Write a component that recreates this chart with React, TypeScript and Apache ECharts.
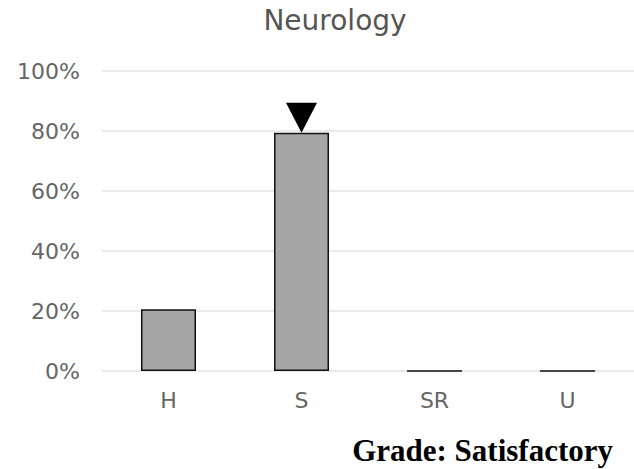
import React, { useEffect, useRef } from "react";
import * as echarts from "echarts";

const categories = ["H", "S", "SR", "U"];
const values = [20.6, 79.4, 0, 0];
const yTicks = [0, 20, 40, 60, 80, 100];
const titleText = "Neurology";
const gradeText = "Grade: Satisfactory";
const markedCategory = "S";

export default function App() {
  const ref = useRef<HTMLDivElement>(null);
  useEffect(() => {
    if (!ref.current) return;
    const chart = echarts.init(ref.current, null, { renderer: "svg" });
    const markedIndex = categories.indexOf(markedCategory);
    chart.setOption({
      animation: false,
      title: {
        text: titleText,
        top: 1,
        left: 330,
        textAlign: "center",
        textStyle: { fontFamily: "DejaVu Sans", fontSize: 28, fontWeight: "normal", color: "#555" },
      },
      grid: { left: 102, right: 0, top: 71, bottom: 98, containLabel: false },
      xAxis: {
        type: "category",
        data: categories,
        axisLine: { show: false },
        axisTick: { show: false },
        axisLabel: { fontFamily: "DejaVu Sans", fontSize: 22, color: "#666", margin: 18 },
      },
      yAxis: {
        type: "value",
        min: 0,
        max: 100,
        interval: 20,
        axisLine: { show: false },
        axisTick: { show: false },
        splitLine: { lineStyle: { color: "#e3e3e3", width: 1.5 } },
        axisLabel: {
          fontFamily: "DejaVu Sans",
          fontSize: 22,
          color: "#666",
          margin: 22,
          formatter: (v: number) => (yTicks.includes(v) ? v + "%" : ""),
        },
      },
      series: [
        {
          type: "bar",
          data: values,
          barWidth: 55,
          itemStyle: { color: "#a6a6a6", borderColor: "#111", borderWidth: 1.5 },
          markPoint: {
            symbol: "triangle",
            symbolRotate: 180,
            symbolSize: [31, 30],
            symbolOffset: [0, -15],
            itemStyle: { color: "#000" },
            label: { show: false },
            data: [{ coord: [markedIndex, values[markedIndex]] }],
          },
        },
      ],
      graphic: [
        {
          type: "text",
          x: 613,
          y: 450,
          style: {
            text: gradeText,
            align: "right",
            verticalAlign: "middle",
            font: "bold 31px 'Liberation Serif', 'Times New Roman', serif",
            fill: "#000",
          },
        },
      ],
    });
    return () => chart.dispose();
  }, []);
  return (
    <div
      ref={ref}
      style={{ position: "fixed", left: 0, top: 0, width: 634, height: 469, background: "#fff" }}
    />
  );
}
